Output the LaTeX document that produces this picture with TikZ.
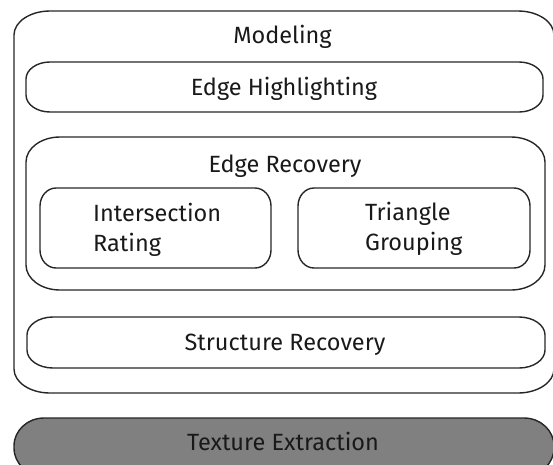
\documentclass[tikz,border=0pt]{standalone}
\usepackage{fontspec}
\setmainfont{Fira Sans}
\newcommand\myebox[7][]{%
 \pgfmathsetmacro\xa{#2}\pgfmathsetmacro\ya{#3}\pgfmathsetmacro\xb{#4}\pgfmathsetmacro\yb{#5}%
 \pgfmathsetmacro\rx{#6}\pgfmathsetmacro\ry{#7}%
 \pgfmathsetmacro\kx{0.448*\rx}\pgfmathsetmacro\ky{0.448*\ry}%
 \draw[boxline,#1] (\xa+\rx,\ya) -- (\xb-\rx,\ya)
   .. controls (\xb-\kx,\ya) and (\xb,\ya+\ky) .. (\xb,\ya+\ry) -- (\xb,\yb-\ry)
   .. controls (\xb,\yb-\ky) and (\xb-\kx,\yb) .. (\xb-\rx,\yb) -- (\xa+\rx,\yb)
   .. controls (\xa+\kx,\yb) and (\xa,\yb-\ky) .. (\xa,\yb-\ry) -- (\xa,\ya+\ry)
   .. controls (\xa,\ya+\ky) and (\xa+\kx,\ya) .. (\xa+\rx,\ya) -- cycle;}
\tikzset{
  boxline/.style={draw=black!85, line width=1.4pt},
  lbl/.style={inner sep=0pt, text=black!90, font=\fontsize{23.5}{30}\selectfont},
}
\begin{document}
\begin{tikzpicture}[x=1pt,y=-1pt]
\useasboundingbox (0,0) rectangle (553,464);
\clip (0,0) rectangle (553,464);
% outer Modeling box
\myebox{14}{11}{554}{393}{36}{24}
% Edge Highlighting
\myebox{26}{62}{543}{112}{24}{17}
% Edge Recovery
\myebox{26}{137}{545}{290}{34}{25}
% Intersection Rating
\myebox{40}{188}{271}{268}{16}{18}
% Triangle Grouping
\myebox{298}{188}{530}{268}{16}{18}
% Structure Recovery
\myebox{27}{317}{545}{368}{26}{18}
% Texture Extraction
\myebox[fill=black!50]{14}{418}{554}{476}{30}{28}

\node[lbl, anchor=base] (modeling) at (282.5,43) {Modeling};
\node[lbl, anchor=base] (edgehl) at (284,95) {Edge Highlighting};
\node[lbl, anchor=base] (edgerec) at (285,172) {Edge Recovery};
\node[lbl, anchor=base west, align=left] (inter) at (93,251) {Intersection\\Rating};
\node[lbl, anchor=base west, align=left] (tri) at (365,250) {Triangle\\Grouping};
\node[lbl, anchor=base] (struct) at (285,350) {Structure Recovery};
\node[lbl, anchor=base] (texture) at (283,450) {Texture Extraction};
\end{tikzpicture}
\end{document}
